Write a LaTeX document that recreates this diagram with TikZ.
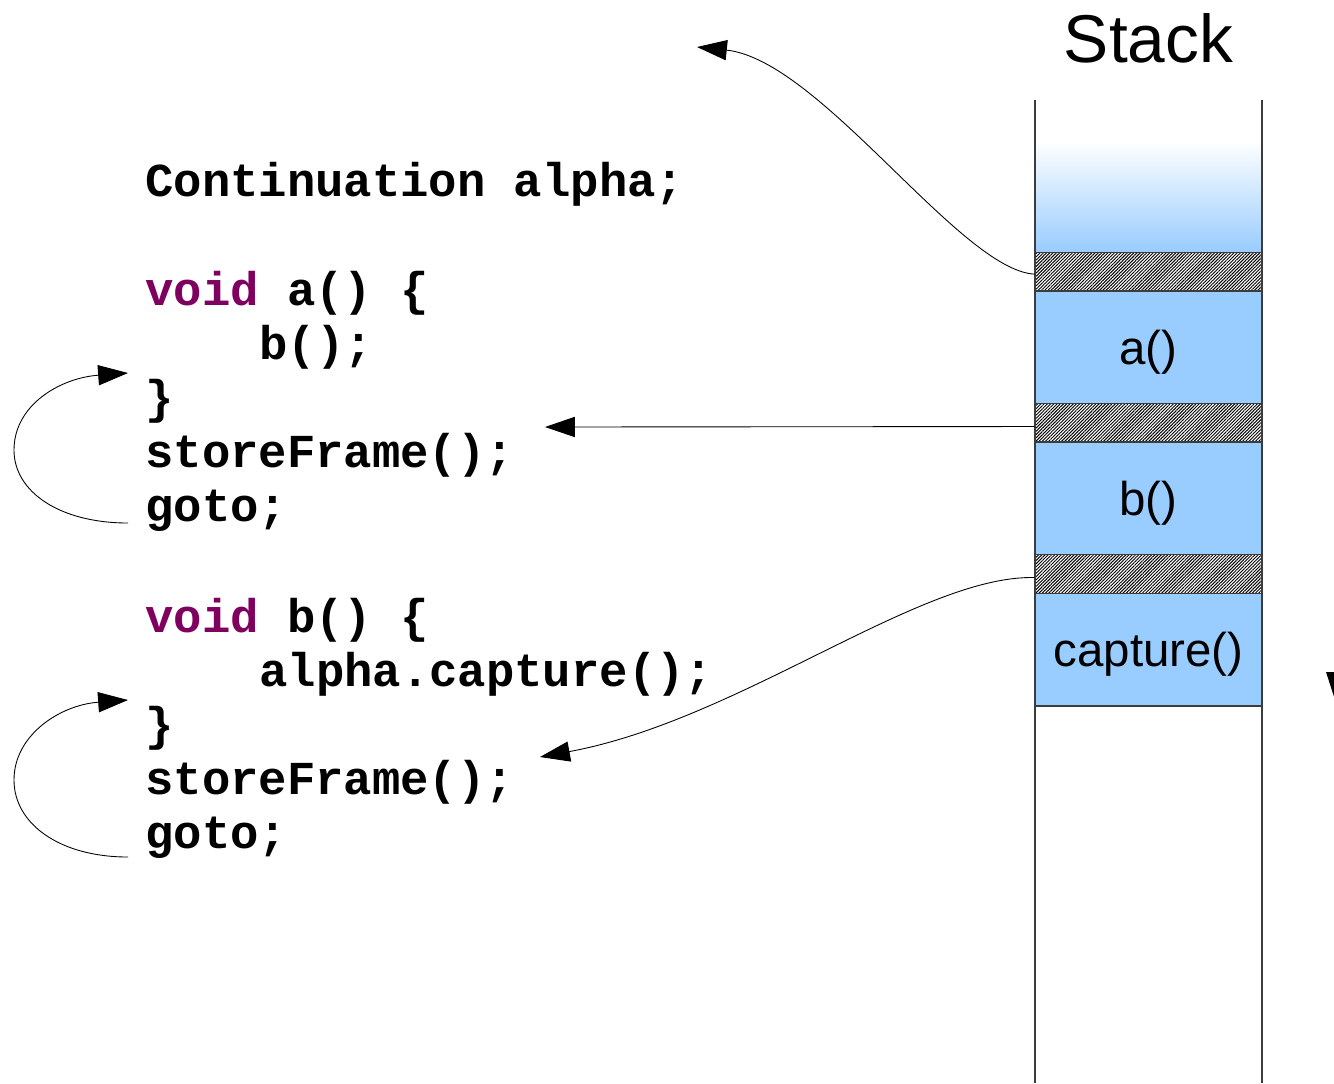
\documentclass[tikz,border=0pt]{standalone}
\usepackage{fontspec}
\setmonofont{Liberation Mono}
\newfontfamily\arialfont{Liberation Sans}
\usetikzlibrary{arrows.meta,patterns.meta}

\definecolor{stackblue}{RGB}{153,204,255}
\definecolor{keyword}{RGB}{128,0,96}
\definecolor{framegray}{RGB}{60,60,60}

\tikzset{
  code/.style={font=\ttfamily\bfseries\fontsize{26.9pt}{30pt}\selectfont,
    anchor=base west, inner sep=0pt},
  framebox/.style={draw=framegray, line width=0.6pt, fill=stackblue,
    minimum width=4.54cm, minimum height=2.26cm, inner sep=0pt,
    text height=25.3pt, text depth=5.7pt,
    font=\arialfont\fontsize{27pt}{30pt}\selectfont},
  hatchband/.style={draw=framegray, line width=0.6pt, minimum width=4.54cm,
    minimum height=0.77cm, inner sep=0pt, preaction={fill=white},
    pattern={Lines[angle=45,distance=1.3pt,line width=0.55pt]}},
  link/.style={-{Triangle[length=17pt,width=11.5pt]}, line width=0.5pt, black},
}

\begin{document}
\begin{tikzpicture}[x=0.02cm,y=-0.02cm]
\useasboundingbox (0,0) rectangle (1334,1083);

% stack column
\shade[top color=white, bottom color=stackblue] (1035,140) rectangle (1262,252);
\draw[framegray, line width=0.6pt] (1035,100) -- (1035,1083);
\draw[framegray, line width=0.6pt] (1262,100) -- (1262,1083);
\node[font=\arialfont\fontsize{38.5pt}{40pt}\selectfont] (stacktitle) at (1148.5,38) {Stack};

\node[hatchband] (h1) at (1148.5,271.5) {};
\node[framebox] (fa) at (1148.5,347.5) {a()};
\node[hatchband] (h2) at (1148.5,423) {};
\node[framebox] (fb) at (1148.5,498.5) {b()};
\node[hatchband] (h3) at (1148.5,574) {};
\node[framebox] (fc) at (1148.5,649.5) {capture()};

% code listing
\node[code] (l0) at (145,196) {Continuation alpha;};
\node[code] (l1) at (145,305) {\textcolor{keyword}{void} a() \{};
\node[code] (l2) at (259,359) {b();};
\node[code] (l3) at (145,413) {\}};
\node[code] (l4) at (145,467) {storeFrame();};
\node[code] (l5) at (145,521) {goto;};
\node[code] (l6) at (145,632) {\textcolor{keyword}{void} b() \{};
\node[code] (l7) at (259,686) {alpha.capture();};
\node[code] (l8) at (145,740) {\}};
\node[code] (l9) at (145,794) {storeFrame();};
\node[code] (l10) at (145,848) {goto;};

% connector ends
\coordinate (t1) at (697,47);
\coordinate (t2) at (545,427);
\coordinate (t3) at (540,757);
\coordinate (loopAtail) at (128,523);
\coordinate (loopAtip) at (128,373);
\coordinate (loopBtail) at (128,857);
\coordinate (loopBtip) at (128,700);

% stack frames to code
\draw[link] ([yshift=-1.5pt]h1.west) .. controls (960,270) and (820,60) .. (t1);
\draw[link] ([yshift=-2pt]h2.west) -- (t2);
\draw[link] ([yshift=-2pt]h3.west) .. controls (920,575) and (740,720) .. (t3);

% goto loops
\draw[link] (loopAtail) .. controls (60,523) and (14,492) .. (14,450)
  .. controls (14,405) and (60,378) .. (loopAtip);
\draw[link] (loopBtail) .. controls (60,857) and (14,824) .. (14,780)
  .. controls (14,735) and (60,705) .. (loopBtip);

% arrow head at the right border
\begin{scope}
  \clip (0,0) rectangle (1334,1083);
  \fill (1326,672) -- (1346,672) -- (1336,703) -- cycle;
\end{scope}
\end{tikzpicture}
\end{document}
